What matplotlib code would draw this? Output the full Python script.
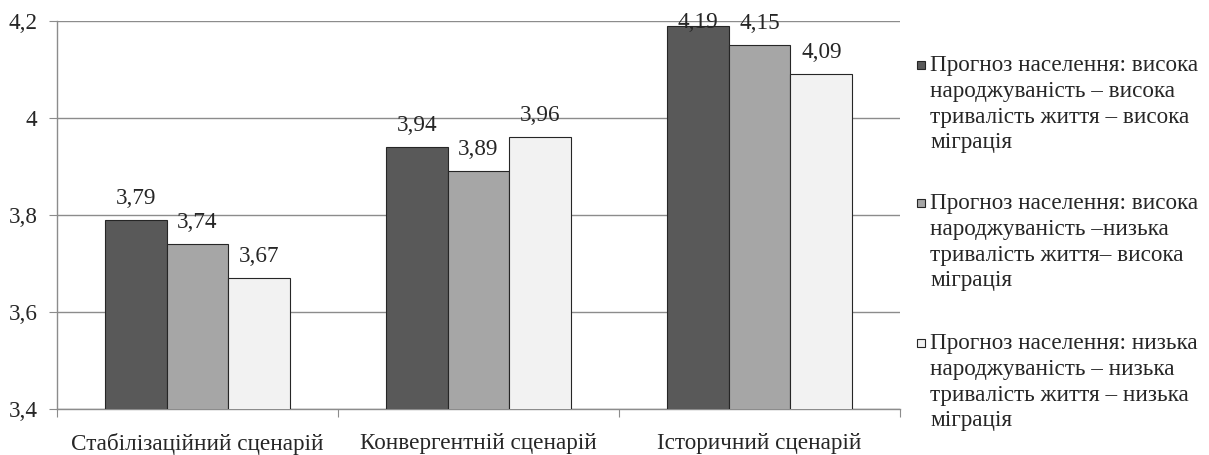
import matplotlib
matplotlib.use('Agg')
import matplotlib.pyplot as plt
from matplotlib.patches import Rectangle
import numpy as np

plt.rcParams['font.family'] = ['Liberation Serif', 'DejaVu Serif']

# Сценарії та значення прогнозів
scenarios = ['Стабілізаційний сценарій', 'Конвергентній сценарій', 'Історичний сценарій']
high_high_high = [3.79, 3.94, 4.19]
high_low_high = [3.74, 3.89, 4.15]
low_low_low = [3.67, 3.96, 4.09]
series_labels = [
    'Прогноз населення: висока\nнароджуваність – висока\nтривалість життя – висока\nміграція',
    'Прогноз населення: висока\nнароджуваність –низька\nтривалість життя– висока\nміграція',
    'Прогноз населення: низька\nнароджуваність – низька\nтривалість життя – низька\nміграція',
]
y_ticks = [3.4, 3.6, 3.8, 4.0, 4.2]
y_tick_labels = ['3,4', '3,6', '3,8', '4', '4,2']

colors = ['#595959', '#a6a6a6', '#f2f2f2']
grid_color = '#8c8c8c'
fs = 16.7

fig = plt.figure(figsize=(12.09, 4.55), dpi=100)
ax = fig.add_axes([57 / 1209, 46 / 455, 843 / 1209, 388 / 455])

x = np.arange(len(scenarios))
w = 0.22
all_series = [high_high_high, high_low_high, low_low_low]
for i, vals in enumerate(all_series):
    pos = x + (i - 1) * w
    ax.bar(pos, vals, width=w, bottom=0, color=colors[i], edgecolor='#262626',
           linewidth=0.8, zorder=3)
    for px, v in zip(pos, vals):
        ty = min(v + 0.045, 4.196)
        ax.text(px, ty, f'{v:.2f}'.replace('.', ','), ha='center', va='center',
                fontsize=fs, color='#262626', zorder=4)

ax.set_ylim(3.4, 4.2)
ax.set_xlim(-0.5, 2.5)
ax.set_yticks(y_ticks)
ax.set_yticklabels(y_tick_labels, fontsize=fs, color='#262626')
ax.yaxis.grid(True, color=grid_color, linewidth=1.0, zorder=0)

ax.set_xticks([-0.5, 0.5, 1.5, 2.5])
ax.set_xticklabels([])
ax.set_xticks(x, minor=True)
ax.set_xticklabels(scenarios, minor=True, fontsize=fs, color='#262626')
ax.tick_params(axis='x', which='minor', length=0, pad=17)
ax.tick_params(axis='x', which='major', length=6, color=grid_color, direction='out')
ax.tick_params(axis='y', length=6, color=grid_color, direction='out', pad=8)

for side in ['top', 'right']:
    ax.spines[side].set_visible(False)
for side in ['left', 'bottom']:
    ax.spines[side].set_color(grid_color)
    ax.spines[side].set_linewidth(1.0)

# Легенда праворуч від графіка
entry_tops = [55, 193, 333]
for i, label in enumerate(series_labels):
    top = 1 - entry_tops[i] / 455
    fig.text(930 / 1209, top, label, ha='left', va='top', fontsize=fs,
             color='#262626', linespacing=1.3)
    sq = 8
    fig.patches.append(Rectangle((917 / 1209, 1 - (entry_tops[i] + 6 + sq) / 455),
                                 sq / 1209, sq / 455, transform=fig.transFigure,
                                 facecolor=colors[i], edgecolor='#262626',
                                 linewidth=0.8))

fig.savefig('out.png', dpi=100)
